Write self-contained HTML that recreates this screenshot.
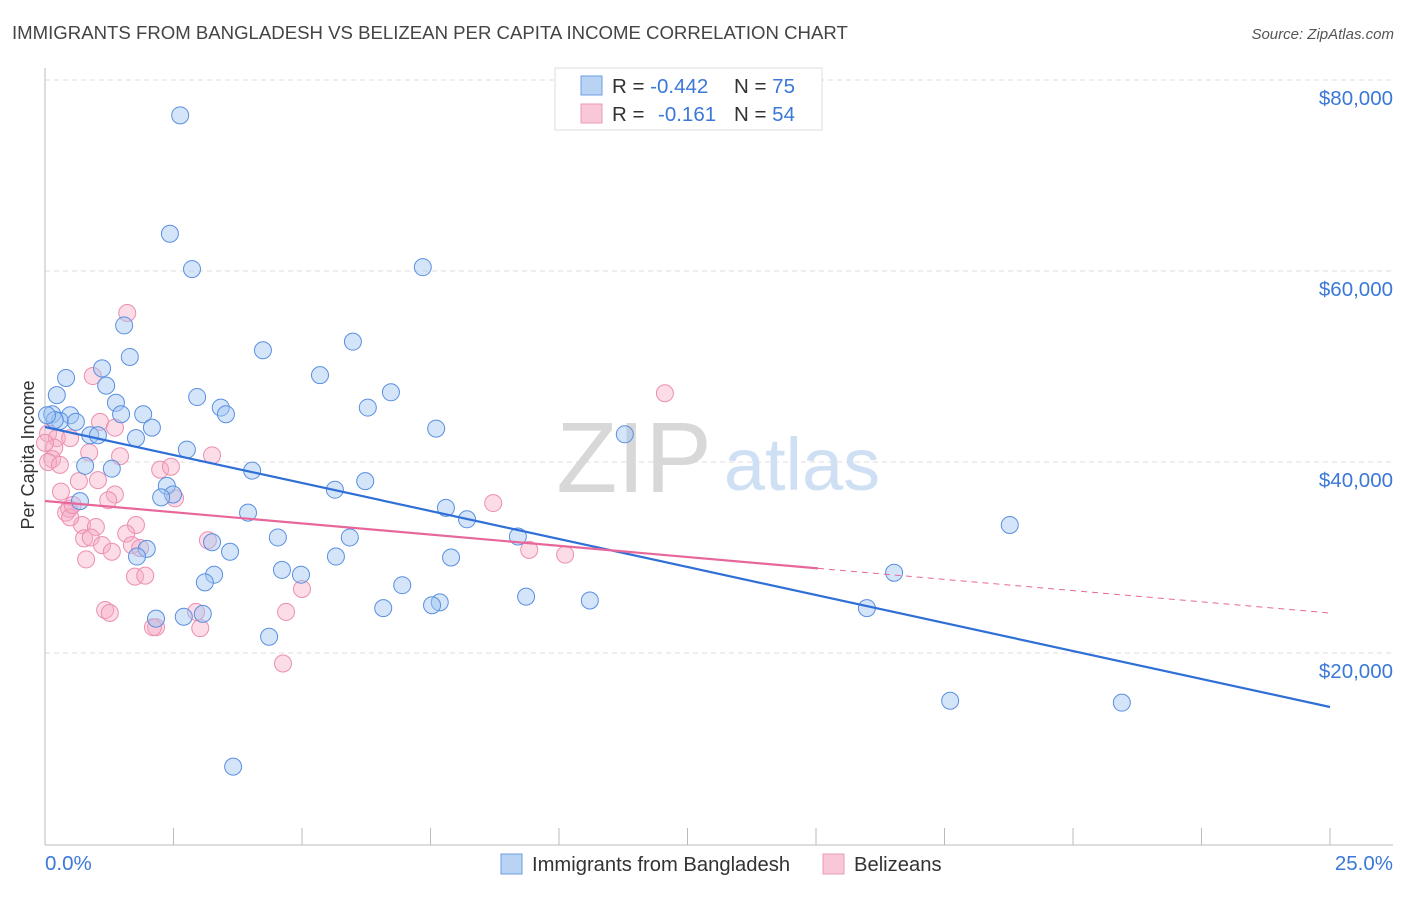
<!DOCTYPE html>
<html><head><meta charset="utf-8"><style>
body{margin:0;background:#fff;font-family:"Liberation Sans",sans-serif;}
svg text{font-family:"Liberation Sans",sans-serif;}
</style></head><body>
<svg id="chart" width="1406" height="892" viewBox="0 0 1406 892" xmlns="http://www.w3.org/2000/svg">
<text x="12" y="39" font-size="18.6" fill="#444">IMMIGRANTS FROM BANGLADESH VS BELIZEAN PER CAPITA INCOME CORRELATION CHART</text>
<text x="1394" y="39" font-size="15" fill="#555" text-anchor="end" font-style="italic">Source: ZipAtlas.com</text>
<g id="grid"></g>
<g>
<text x="634" y="492" font-size="100" fill="#d8d8d8" text-anchor="middle" font-family="Liberation Serif, serif">ZIP</text>
<text x="802" y="490" font-size="74" fill="#cfe0f5" text-anchor="middle">atlas</text>
</g>
<line x1="45" y1="68" x2="45" y2="845" stroke="#bbb" stroke-width="1"/>
<line x1="45" y1="845" x2="1393" y2="845" stroke="#bbb" stroke-width="1"/>
<g id="xticks"></g>
<g id="ylabels"></g>
<text transform="translate(34,455) rotate(-90)" font-size="18" fill="#333" text-anchor="middle">Per Capita Income</text>
<text x="45" y="870" font-size="20.5" fill="#3b78d8">0.0%</text>
<text x="1393" y="870" font-size="20.5" fill="#3b78d8" text-anchor="end">25.0%</text>
<g id="pink"></g>
<g id="blue"></g>
<g id="trends"></g>
<g>
<rect x="555" y="68" width="267" height="62" fill="#fff" stroke="#ddd"/>
<rect x="581" y="76" width="21" height="19" fill="#b9d3f5" stroke="#6c9de3"/>
<rect x="581" y="104" width="21" height="19" fill="#f9c8d8" stroke="#eb9ab7"/>
<text x="612" y="93" font-size="20.5" fill="#333">R = <tspan fill="#3b78d8">-0.442</tspan><tspan x="734">N = </tspan><tspan fill="#3b78d8">75</tspan></text>
<text x="612" y="121" font-size="20.5" fill="#333">R = <tspan x="658" fill="#3b78d8">-0.161</tspan><tspan x="734">N = </tspan><tspan fill="#3b78d8">54</tspan></text>
</g>
<g>
<rect x="501" y="854" width="21" height="20" fill="#b9d3f5" stroke="#6c9de3"/>
<text x="532" y="871" font-size="20.2" fill="#333">Immigrants from Bangladesh</text>
<rect x="823" y="854" width="21" height="20" fill="#f9c8d8" stroke="#eb9ab7"/>
<text x="854" y="871" font-size="20.2" fill="#333">Belizeans</text>
</g>
</svg>
<script>
const yTicks=[20000,40000,60000,80000];
const yTickLabels=["$20,000","$40,000","$60,000","$80,000"];
const xTicks=[2.5,5,7.5,10,12.5,15,17.5,20,22.5,25];
const blueX=[2.63,2.43,2.86,7.35,1.54,5.99,4.24,1.65,5.35,0.41,1.11,1.19,0.23,6.73,2.96,1.38,6.28,3.42,3.52,1.48,1.91,0.49,0.14,0.29,0.60,0.88,1.03,2.08,7.61,11.28,1.77,2.76,0.78,1.30,4.03,6.23,5.64,2.37,2.49,2.26,0.68,7.80,3.95,8.21,5.93,4.53,9.20,18.77,3.25,1.98,1.79,3.60,5.66,7.90,4.61,4.98,3.29,3.11,16.52,6.95,9.36,7.68,7.53,10.60,6.58,15.99,2.16,3.07,2.70,4.36,17.61,20.95,3.66,0.19,0.04];
const blueY=[76.3,63.9,60.2,60.4,54.3,52.6,51.7,51.0,49.1,48.8,49.8,48.0,47.0,47.3,46.8,46.2,45.7,45.7,45.0,45.0,45.0,44.9,45.0,44.3,44.2,42.8,42.8,43.6,43.5,42.9,42.5,41.3,39.6,39.3,39.1,38.0,37.1,37.5,36.6,36.3,35.9,35.2,34.7,34.0,32.1,32.1,32.2,33.4,31.6,30.9,30.1,30.6,30.1,30.0,28.7,28.2,28.2,27.4,28.4,27.1,25.9,25.3,25.0,25.5,24.7,24.7,23.6,24.1,23.8,21.7,15.0,14.8,8.1,44.4,44.9];
const pinkX=[1.60,0.93,12.06,1.07,1.36,0.06,0.23,0.49,0.18,0.86,0.14,1.46,3.25,0.06,2.24,2.45,0.66,1.03,0.31,1.36,1.23,2.53,8.72,0.41,0.47,0.72,0.99,1.77,0.49,1.58,0.76,0.89,3.17,1.11,1.69,1.85,9.42,10.12,0.80,1.30,1.75,1.95,5.00,1.17,1.26,2.94,4.69,2.16,2.10,3.02,4.63,0.0,0.29,0.54];
const pinkY=[55.6,49.0,47.2,44.2,43.6,43.0,42.5,42.5,41.5,41.0,40.3,40.6,40.7,40.0,39.2,39.5,38.0,38.1,36.9,36.6,36.0,36.2,35.7,34.7,35.1,33.4,33.2,33.4,34.2,32.5,32.0,32.1,31.8,31.3,31.3,31.0,30.8,30.3,29.8,30.6,28.0,28.1,26.7,24.5,24.2,24.3,24.3,22.7,22.7,22.6,18.9,42.0,39.7,35.5];
const blueTrend=[43665,14346];
const pinkTrend=[35916,24188];
const pinkSolidEnd=15.04;

const NS="http://www.w3.org/2000/svg";
function xs(p){return 45+p*51.4;}
function ys(v){return 653-(v-20000)*191/20000;}
function mk(tag,attrs,parent){const e=document.createElementNS(NS,tag);for(const k in attrs)e.setAttribute(k,attrs[k]);parent.appendChild(e);return e;}
const grid=document.getElementById('grid'),yl=document.getElementById('ylabels'),xt=document.getElementById('xticks');
yTicks.forEach((v,i)=>{
  const l=mk('line',{x1:45,x2:1393,y1:ys(v),y2:ys(v),stroke:'#ddd','stroke-dasharray':'5,4'},grid);
  
  
  const t=mk('text',{x:1393,y:ys(v)+25,'font-size':20.5,fill:'#3b78d8','text-anchor':'end'},yl);
  t.textContent=yTickLabels[i];
  
  
});
xTicks.forEach(p=>{
  const l=mk('line',{x1:xs(p),x2:xs(p),y1:828,y2:845,stroke:'#bbb'},xt);
  
  
});
const pg=document.getElementById('pink');
pinkX.forEach((p,i)=>{
  const c=mk('circle',{cx:xs(p),cy:ys(pinkY[i]*1000),r:8.5,fill:'rgba(246,172,198,0.42)',stroke:'#ec8fb0','stroke-width':1},pg);
  
  
});
const bg=document.getElementById('blue');
blueX.forEach((p,i)=>{
  const c=mk('circle',{cx:xs(p),cy:ys(blueY[i]*1000),r:8.5,fill:'rgba(160,197,242,0.45)',stroke:'#5a8fe0','stroke-width':1},bg);
  
  
});
const tg=document.getElementById('trends');
function tv(tr,p){return tr[0]+(tr[1]-tr[0])*p/25;}
const bl=mk('line',{x1:xs(0),y1:ys(tv(blueTrend,0)),x2:xs(25),y2:ys(tv(blueTrend,25)),stroke:'#2f6fd6','stroke-width':2.2},tg);


const pl=mk('line',{x1:xs(0),y1:ys(tv(pinkTrend,0)),x2:xs(pinkSolidEnd),y2:ys(tv(pinkTrend,pinkSolidEnd)),stroke:'#e8679a','stroke-width':2.2},tg);


const pd=mk('line',{x1:xs(pinkSolidEnd),y1:ys(tv(pinkTrend,pinkSolidEnd)),x2:xs(25),y2:ys(tv(pinkTrend,25)),stroke:'#e8679a','stroke-width':1,'stroke-dasharray':'6,5'},tg);


</script>
</body></html>
